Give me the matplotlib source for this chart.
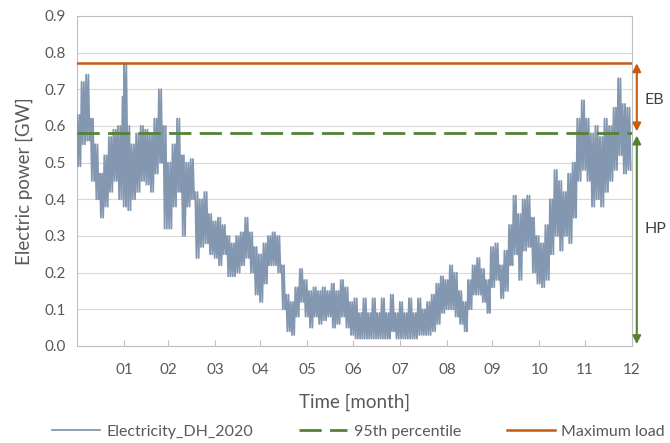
import matplotlib
matplotlib.use("Agg")
import matplotlib.pyplot as plt
import matplotlib.transforms as mtransforms

# envelope of the hourly series (day of year, upper, lower) in GW
day = [0, 3, 6, 9, 12, 15, 18, 21, 24, 27, 30, 31, 33, 36, 39, 42, 45, 48, 51, 54,
       57, 60, 63, 66, 69, 72, 75, 78, 81, 84, 87, 90, 93, 96, 99, 102, 105, 108, 111, 114,
       117, 120, 123, 126, 129, 132, 135, 138, 141, 144, 147, 150, 153, 156, 159, 162, 165, 168, 171, 174,
       177, 180, 183, 186, 189, 192, 195, 198, 201, 204, 207, 210, 213, 216, 219, 222, 225, 228, 231, 234,
       237, 240, 243, 246, 249, 252, 255, 258, 261, 264, 267, 270, 273, 276, 279, 282, 285, 288, 291, 294,
       297, 300, 303, 306, 309, 312, 315, 318, 321, 324, 327, 330, 333, 336, 339, 342, 345, 348, 351, 354,
       357, 360, 363]
upper = [0.63, 0.72, 0.74, 0.62, 0.55, 0.47, 0.52, 0.57, 0.59, 0.60, 0.68, 0.77, 0.60, 0.55, 0.58, 0.60, 0.59, 0.58, 0.62, 0.70,
         0.60, 0.50, 0.55, 0.62, 0.52, 0.50, 0.51, 0.42, 0.40, 0.42, 0.36, 0.34, 0.35, 0.33, 0.30, 0.28, 0.30, 0.31, 0.35, 0.31,
         0.27, 0.25, 0.28, 0.30, 0.31, 0.30, 0.22, 0.14, 0.12, 0.16, 0.21, 0.18, 0.15, 0.16, 0.15, 0.16, 0.15, 0.17, 0.15, 0.18,
         0.16, 0.12, 0.13, 0.09, 0.13, 0.09, 0.13, 0.09, 0.13, 0.09, 0.14, 0.09, 0.12, 0.09, 0.13, 0.09, 0.13, 0.10, 0.12, 0.14,
         0.17, 0.19, 0.18, 0.22, 0.20, 0.15, 0.12, 0.18, 0.22, 0.24, 0.21, 0.18, 0.27, 0.28, 0.22, 0.26, 0.33, 0.41, 0.36, 0.40,
         0.41, 0.35, 0.30, 0.28, 0.33, 0.40, 0.48, 0.45, 0.42, 0.47, 0.50, 0.62, 0.67, 0.62, 0.58, 0.60, 0.57, 0.62, 0.60, 0.65,
         0.73, 0.66, 0.65]
lower = [0.49, 0.55, 0.56, 0.45, 0.40, 0.35, 0.38, 0.42, 0.45, 0.40, 0.38, 0.50, 0.37, 0.40, 0.42, 0.45, 0.44, 0.42, 0.47, 0.50,
         0.32, 0.32, 0.38, 0.42, 0.30, 0.38, 0.40, 0.24, 0.27, 0.28, 0.25, 0.24, 0.22, 0.25, 0.19, 0.19, 0.20, 0.22, 0.24, 0.20,
         0.14, 0.12, 0.17, 0.22, 0.22, 0.20, 0.10, 0.04, 0.03, 0.08, 0.12, 0.08, 0.05, 0.08, 0.06, 0.07, 0.08, 0.05, 0.06, 0.08,
         0.05, 0.03, 0.02, 0.02, 0.02, 0.02, 0.02, 0.02, 0.02, 0.02, 0.04, 0.02, 0.02, 0.02, 0.02, 0.02, 0.03, 0.03, 0.03, 0.04,
         0.06, 0.09, 0.10, 0.10, 0.08, 0.06, 0.04, 0.10, 0.14, 0.14, 0.12, 0.09, 0.16, 0.18, 0.13, 0.15, 0.22, 0.25, 0.18, 0.26,
         0.27, 0.20, 0.17, 0.16, 0.18, 0.25, 0.30, 0.26, 0.30, 0.28, 0.35, 0.45, 0.48, 0.45, 0.38, 0.40, 0.38, 0.42, 0.45, 0.48,
         0.52, 0.47, 0.48]

max_load = 0.771
p95 = 0.582
month_end = [31, 60, 91, 121, 152, 182, 213, 244, 274, 305, 335, 366]
month_labels = ["01", "02", "03", "04", "05", "06", "07", "08", "09", "10", "11", "12"]

plt.rcParams['font.family'] = ['Lato', 'DejaVu Sans']
txt = '#595959'

# zigzag between peaks and troughs, two swings per 3-day bin
xs, ys = [], []
for i in range(len(day)):
    for k in range(2):
        xs += [day[i] + 1.5 * k, day[i] + 1.5 * k + 0.75]
        ys += [upper[i], lower[i]]

fig = plt.figure(figsize=(6.7, 4.43), dpi=100)
ax = fig.add_axes([0.115, 0.219, 0.828, 0.745])

ax.plot(xs, ys, color='#8497B0', lw=1.3, label='Electricity_DH_2020', zorder=3)
ax.axhline(p95, color='#548235', lw=2, dashes=(8, 3), label='95th percentile', zorder=4)
ax.axhline(max_load, color='#C55A11', lw=1.8, label='Maximum load', zorder=4)

ax.set_xlim(0, 366)
ax.set_ylim(0, 0.9)
ax.set_yticks([i / 10 for i in range(10)])
ax.set_yticklabels([f"{i / 10:.1f}" for i in range(10)])
ax.set_xticks(month_end)
ax.set_xticklabels(month_labels)
ax.grid(axis='y', color='#d9d9d9', lw=0.8, zorder=0)
for s in ax.spines.values():
    s.set_color('#bfbfbf')
ax.tick_params(axis='y', length=0, labelsize=11, labelcolor=txt, pad=8)
ax.tick_params(axis='x', direction='in', length=4, color='#bfbfbf', labelsize=11, labelcolor=txt, pad=12)
ax.set_ylabel('Electric power [GW]', fontsize=13.5, color=txt, labelpad=8)
ax.set_xlabel('Time [month]', fontsize=13.5, color=txt, labelpad=12)

# EB / HP arrows right of the plot
tr = mtransforms.blended_transform_factory(ax.transAxes, ax.transData)
ax.annotate('', xy=(1.009, max_load), xytext=(1.009, p95 + 0.003), xycoords=tr, textcoords=tr,
            arrowprops=dict(arrowstyle='<|-|>', color='#C55A11', lw=1.5, shrinkA=0, shrinkB=0,
                            mutation_scale=12), annotation_clip=False)
ax.annotate('', xy=(1.009, p95 - 0.008), xytext=(1.009, 0.005), xycoords=tr, textcoords=tr,
            arrowprops=dict(arrowstyle='<|-|>', color='#548235', lw=1.5, shrinkA=0, shrinkB=0,
                            mutation_scale=12), annotation_clip=False)
ax.text(1.022, 0.67, 'EB', transform=tr, fontsize=11.5, color='#404040', va='center', ha='left')
ax.text(1.022, 0.32, 'HP', transform=tr, fontsize=11.5, color='#404040', va='center', ha='left')

fig.legend(loc='center', bbox_to_anchor=(0.535, 0.026), ncol=3, frameon=False, fontsize=11.5,
           handlelength=3.0, handletextpad=0.4, columnspacing=2.9, labelcolor=txt)

fig.savefig('out.png', dpi=100)
